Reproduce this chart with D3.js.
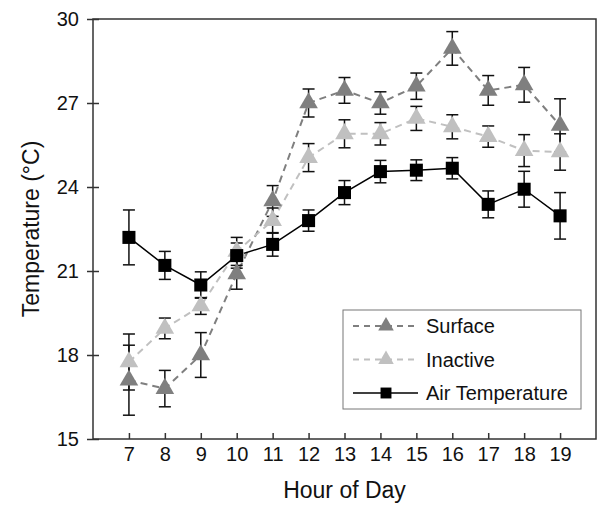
<!DOCTYPE html>
<html>
<head>
<meta charset="utf-8">
<script src="https://cdn.jsdelivr.net/npm/d3@7"></script>
<style>
  body { margin: 0; background: #fff; }
  text { font-family: "Liberation Sans", Arial, sans-serif; fill: #111; }
</style>
</head>
<body>
<div id="chart"></div>
<script>
// values
var hours = [7, 8, 9, 10, 11, 12, 13, 14, 15, 16, 17, 18, 19]
var yTicks = [15, 18, 21, 24, 27, 30]

var surface    = [17.1, 16.8, 18.0, 20.9, 23.5, 27.0, 27.45, 27.0, 27.6, 28.95, 27.45, 27.65, 26.2]
var surfaceErr = [1.25, 0.65, 0.8, 0.55, 0.55, 0.5, 0.46, 0.4, 0.47, 0.6, 0.53, 0.62, 0.95]

var inactive    = [17.75, 18.95, 19.75, 21.7, 22.8, 25.05, 25.9, 25.9, 26.45, 26.15, 25.8, 25.3, 25.25]
var inactiveErr = [1.0, 0.37, 0.3, 0.5, 0.45, 0.5, 0.5, 0.4, 0.43, 0.43, 0.38, 0.57, 0.65]

var air    = [22.2, 21.2, 20.5, 21.55, 21.95, 22.8, 23.8, 24.55, 24.6, 24.67, 23.38, 23.92, 22.97]
var airErr = [0.98, 0.5, 0.47, 0.45, 0.42, 0.38, 0.43, 0.4, 0.37, 0.38, 0.48, 0.64, 0.83]

var w = 600, h = 505
var margin = {left: 93, right: 4, top: 19, bottom: 66}

var svg = d3.select("#chart").append("svg")
  .attr("width", w)
  .attr("height", h)

var x = d3.scaleLinear().domain([6, 20]).range([margin.left, w - margin.right])
var y = d3.scaleLinear().domain([15, 30]).range([h - margin.bottom, margin.top])

// frame
svg.append("rect")
  .attr("x", x(6)).attr("y", y(30))
  .attr("width", x(20) - x(6)).attr("height", y(15) - y(30))
  .attr("fill", "none").attr("stroke", "#333").attr("stroke-width", 1.5)

// y axis, ticks crossing the frame
var yAxis = svg.append("g")
  .attr("transform", "translate(" + x(6) + ",0)")
  .call(d3.axisLeft(y).tickValues(yTicks).tickSize(6).tickPadding(6))
yAxis.select(".domain").remove()
yAxis.selectAll(".tick line").attr("x2", 6).attr("x1", -6).attr("stroke", "#333").attr("stroke-width", 1.5)
yAxis.selectAll(".tick text").attr("x", -14).style("font-size", "20px").attr("fill", "#111")

// x axis, ticks inside
var xAxis = svg.append("g")
  .attr("transform", "translate(0," + y(15) + ")")
  .call(d3.axisBottom(x).tickValues(hours).tickSize(-6).tickPadding(8))
xAxis.select(".domain").remove()
xAxis.selectAll(".tick line").attr("stroke", "#333").attr("stroke-width", 1.5)
xAxis.selectAll(".tick text").style("font-size", "20px").attr("fill", "#111")

// axis titles
svg.append("text")
  .attr("x", (x(6) + x(20)) / 2).attr("y", 498)
  .attr("text-anchor", "middle")
  .style("font-size", "23px")
  .text("Hour of Day")

svg.append("text")
  .attr("transform", "translate(39,229) rotate(-90)")
  .attr("text-anchor", "middle")
  .style("font-size", "23px")
  .text("Temperature (°C)")

var series = [
  {name: "Surface", vals: surface, err: surfaceErr, colour: "#7f7f7f", dash: "7,5", symbol: d3.symbolTriangle, size: 150, lw: 2},
  {name: "Inactive", vals: inactive, err: inactiveErr, colour: "#c0c0c0", dash: "7,5", symbol: d3.symbolTriangle, size: 150, lw: 2},
  {name: "Air Temperature", vals: air, err: airErr, colour: "#000", dash: null, symbol: d3.symbolSquare, size: 170, lw: 1.5}
]

var line = d3.line()
  .x(function(d, i) { return x(hours[i]) })
  .y(function(d) { return y(d) })

// lines
series.forEach(function(s) {
  svg.append("path")
    .attr("d", line(s.vals))
    .attr("fill", "none")
    .attr("stroke", s.colour)
    .attr("stroke-width", s.lw)
    .attr("stroke-dasharray", s.dash)
})

// error bars
series.forEach(function(s) {
  var g = svg.append("g").attr("stroke", "#111").attr("stroke-width", 1.5)
  s.vals.forEach(function(v, i) {
    var cx = x(hours[i])
    var top = y(v + s.err[i]), bot = y(v - s.err[i])
    g.append("line").attr("x1", cx).attr("x2", cx).attr("y1", top).attr("y2", bot)
    g.append("line").attr("x1", cx - 6).attr("x2", cx + 6).attr("y1", top).attr("y2", top)
    g.append("line").attr("x1", cx - 6).attr("x2", cx + 6).attr("y1", bot).attr("y2", bot)
  })
})

// markers
series.forEach(function(s) {
  svg.append("g").selectAll("path")
    .data(s.vals)
    .enter()
    .append("path")
    .attr("d", d3.symbol().type(s.symbol).size(s.size))
    .attr("transform", function(d, i) { return "translate(" + x(hours[i]) + "," + y(d) + ")" })
    .attr("fill", s.colour)
})

// legend
var lg = svg.append("g")
lg.append("rect")
  .attr("x", 343).attr("y", 310).attr("width", 238).attr("height", 99)
  .attr("fill", "#fff").attr("stroke", "#777").attr("stroke-width", 1)

series.forEach(function(s, i) {
  var ly = 326 + i * 33.5
  lg.append("line")
    .attr("x1", 353).attr("x2", 418).attr("y1", ly).attr("y2", ly)
    .attr("stroke", s.colour).attr("stroke-width", s.lw)
    .attr("stroke-dasharray", s.dash ? "6,5" : null)
  lg.append("path")
    .attr("d", d3.symbol().type(s.symbol).size(s.size * 0.7))
    .attr("transform", "translate(386," + ly + ")")
    .attr("fill", s.colour)
  lg.append("text")
    .attr("x", 426).attr("y", ly).attr("dy", "0.36em")
    .style("font-size", "20px")
    .text(s.name)
})
</script>
</body>
</html>
